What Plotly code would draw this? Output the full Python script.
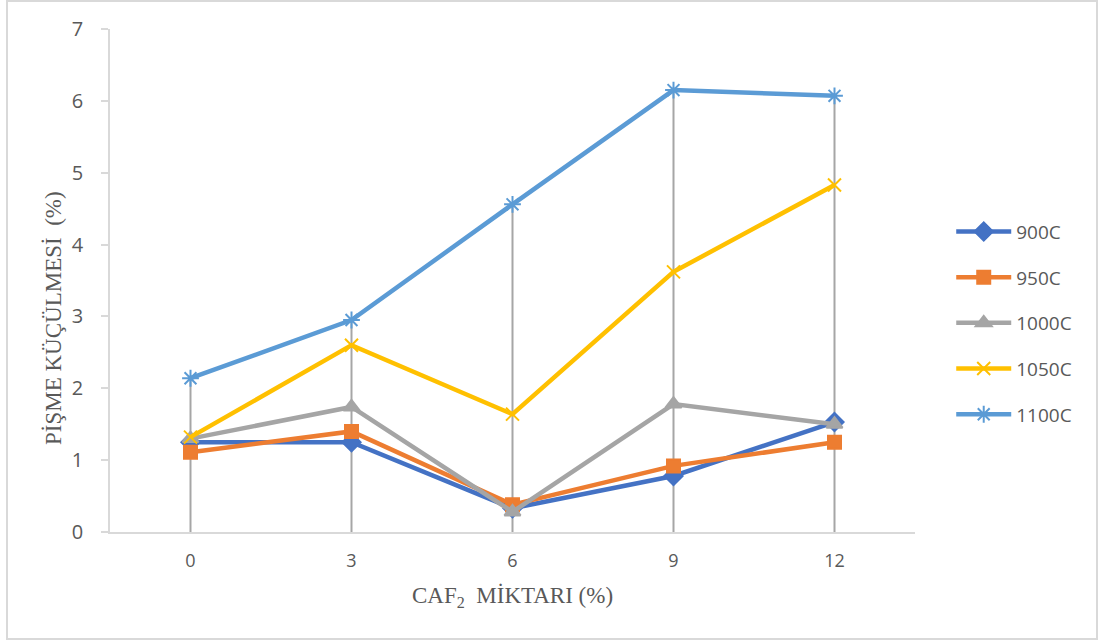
import plotly.graph_objects as go

# CaF2 addition (%) on the category axis
caf2 = ["0", "3", "6", "9", "12"]

# Firing shrinkage (%) per sintering temperature
s900 = [1.25, 1.25, 0.33, 0.78, 1.53]
s950 = [1.11, 1.40, 0.38, 0.92, 1.25]
s1000 = [1.30, 1.74, 0.28, 1.78, 1.50]
s1050 = [1.32, 2.60, 1.64, 3.62, 4.83]
s1100 = [2.14, 2.95, 4.56, 6.15, 6.07]

series = [
    ("900C", s900, "#4472C4", "diamond", 14),
    ("950C", s950, "#ED7D31", "square", 13),
    ("1000C", s1000, "#A5A5A5", "triangle-up", 14),
    ("1050C", s1050, "#FFC000", "x-thin-open", 13),
    ("1100C", s1100, "#5B9BD5", "asterisk-open", 14),
]

fig = go.Figure()

# Drop lines: from the highest value at each category down to zero
all_vals = [s900, s950, s1000, s1050, s1100]
drop_x, drop_y = [], []
for i, c in enumerate(caf2):
    top = max(v[i] for v in all_vals)
    drop_x += [c, c, None]
    drop_y += [top, 0, None]
fig.add_trace(go.Scatter(
    x=drop_x, y=drop_y, mode="lines",
    line=dict(color="#A6A6A6", width=2),
    hoverinfo="skip", showlegend=False,
))

for name, vals, color, symbol, size in series:
    fig.add_trace(go.Scatter(
        x=caf2, y=vals, name=name, mode="lines+markers",
        line=dict(color=color, width=4.5),
        marker=dict(symbol=symbol, size=size, color=color,
                    line=dict(color=color, width=2)),
        legendgroup=name,
    ))

axis_gray = "#D9D9D9"
text_gray = "#595959"
serif = "Liberation Serif, Times New Roman, serif"

fig.update_layout(
    width=1103, height=643,
    margin=dict(l=110, r=188, t=29, b=111),
    paper_bgcolor="white", plot_bgcolor="white",
    font=dict(family="Open Sans, sans-serif", color=text_gray, size=19),
    xaxis=dict(
        type="category", categoryorder="array", categoryarray=caf2,
        range=[-0.5, 4.5], showgrid=False, zeroline=False,
        showline=True, linecolor=axis_gray, linewidth=1.5,
        ticks="", tickfont=dict(size=18, color=text_gray),
        ticklabelstandoff=12,
    ),
    yaxis=dict(
        range=[0, 7], dtick=1, showgrid=False, zeroline=False,
        showline=True, linecolor=axis_gray, linewidth=1.5,
        ticks="outside", ticklen=7, tickcolor=axis_gray, tickwidth=1.5,
        tickfont=dict(size=20, color=text_gray),
        ticklabelstandoff=14,
    ),
    legend=dict(
        x=1.045, xanchor="left", y=0.635, yanchor="top",
        font=dict(size=19, color=text_gray),
        itemwidth=55, tracegroupgap=18,
        bgcolor="rgba(0,0,0,0)",
    ),
    annotations=[
        dict(text="CAF<sub>2</sub>  MİKTARI (%)", xref="paper", yref="paper",
             x=0.5, y=(532 - 597) / 503, xanchor="center", yanchor="middle",
             showarrow=False, font=dict(family=serif, size=23, color=text_gray)),
        dict(text="PİŞME KÜÇÜLMESİ  (%)", xref="paper", yref="paper",
             x=(53 - 110) / 805, y=(532 - 318) / 503, xanchor="center", yanchor="middle",
             textangle=-90, showarrow=False,
             font=dict(family=serif, size=23, color=text_gray)),
    ],
    shapes=[dict(
        type="rect", xref="paper", yref="paper",
        x0=(7 - 110) / 805, x1=(1097 - 110) / 805,
        y0=(532 - 639) / 503, y1=(532 - 1) / 503,
        line=dict(color=axis_gray, width=2), fillcolor="rgba(0,0,0,0)",
        layer="below",
    )],
)

fig.write_html("out.html")
